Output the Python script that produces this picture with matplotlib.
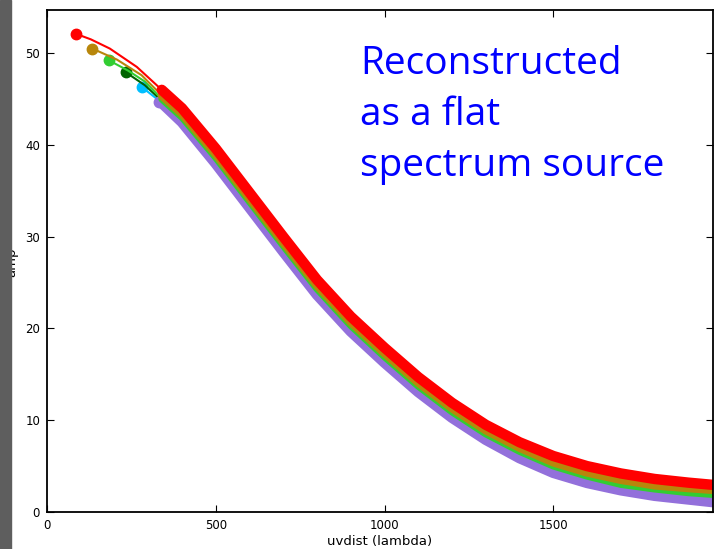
"""amp vs uvdist plot, reconstructed as a flat spectrum source."""

import matplotlib
matplotlib.use("Agg")
import matplotlib.pyplot as plt
from matplotlib.patches import Rectangle

# one entry per spectral window: first point sits alone, dense band from ~340 on
band_uv = [340, 400, 500, 600, 700, 800, 900, 1000, 1100, 1200,
           1300, 1400, 1500, 1600, 1700, 1800, 1900, 1975]

red_uv = [86, 130, 186, 266] + band_uv
red_amp = [52.1, 51.5, 50.5, 48.5,
           46.0, 44.0, 39.6, 34.8, 30.0, 25.3, 21.3, 17.9, 14.7, 11.9,
           9.5, 7.6, 6.1, 5.0, 4.2, 3.6, 3.2, 2.95]

gold_uv = [134, 207, 280] + band_uv
gold_amp = [50.5, 49.3, 47.6,
            45.4, 43.4, 39.0, 34.2, 29.4, 24.7, 20.7, 17.3, 14.1, 11.3,
            8.9, 7.0, 5.4, 4.3, 3.5, 2.9, 2.6, 2.4]

lime_uv = [184, 240, 290] + band_uv
lime_amp = [49.2, 48.1, 46.9,
            45.0, 43.0, 38.6, 33.8, 29.0, 24.3, 20.3, 16.9, 13.7, 10.9,
            8.5, 6.6, 5.0, 3.9, 3.0, 2.5, 2.1, 1.9]

dkgreen_uv = [234, 290] + band_uv
dkgreen_amp = [47.9, 46.5,
               44.8, 42.8, 38.3, 33.5, 28.7, 24.0, 20.0, 16.6, 13.4, 10.7,
               8.3, 6.4, 4.8, 3.7, 2.9, 2.3, 2.0, 1.8]

sky_uv = [281] + band_uv
sky_amp = [46.3,
           44.6, 42.5, 37.9, 33.1, 28.3, 23.6, 19.6, 16.2, 13.0, 10.3,
           7.9, 6.0, 4.5, 3.4, 2.6, 2.0, 1.6, 1.3]

purple_uv = [332] + band_uv
purple_amp = [44.7,
              44.6, 42.5, 38.0, 33.2, 28.4, 23.7, 19.7, 16.3, 13.1, 10.3,
              7.9, 5.9, 4.3, 3.2, 2.4, 1.8, 1.4, 1.1]

# drawn back to front
series = [
    ("#00bfff", sky_uv, sky_amp, 5.5),
    ("#006400", dkgreen_uv, dkgreen_amp, 3.0),
    ("#9370db", purple_uv, purple_amp, 8.0),
    ("#32cd32", lime_uv, lime_amp, 5.0),
    ("#b8860b", gold_uv, gold_amp, 6.0),
    ("#ff0000", red_uv, red_amp, 7.5),
]

xticks = [0, 500, 1000, 1500]
yticks = [0, 10, 20, 30, 40, 50]

fig = plt.figure(figsize=(7.14, 5.49), dpi=100)
ax = fig.add_axes([47 / 714, 37 / 549, 666 / 714, 502 / 549])

for color, uv, amp, band_w in series:
    ax.plot(uv, amp, color=color, lw=1.5)
    ax.plot(uv[0], amp[0], "o", color=color, ms=7.5, mec=color)
    b_uv = [u for u in uv if u >= 340]
    b_amp = amp[len(uv) - len(b_uv):]
    ax.plot(b_uv, b_amp, color=color, lw=band_w, solid_capstyle="round",
            solid_joinstyle="round")

ax.set_xlim(0, 1973)
ax.set_ylim(0, 54.7)
ax.set_xticks(xticks)
ax.set_yticks(yticks)
ax.tick_params(direction="in", top=True, right=True, length=5, width=0.8,
               labelsize=8.5, pad=5)
for sp in ax.spines.values():
    sp.set_linewidth(1.3)
ax.set_xlabel("uvdist (lambda)", fontsize=9.5, labelpad=2)

# y label squeezed against the grey strip, as in the screenshot
fig.text(18 / 714, 1 - 262 / 549, "amp", rotation=90, fontsize=9.5,
         ha="right", va="center")

ax.text(360 / 714, 1 - 45 / 549, "Reconstructed\nas a flat\nspectrum source",
        transform=fig.transFigure, color="#0000ff", fontsize=28,
        family="Open Sans", va="top", ha="left", linespacing=1.45)

# grey strip down the left edge of the screenshot
fig.patches.append(Rectangle((0, 0), 11 / 714, 1, transform=fig.transFigure,
                             color="#5e5e5e", zorder=10))

fig.savefig("out.png", dpi=100)
